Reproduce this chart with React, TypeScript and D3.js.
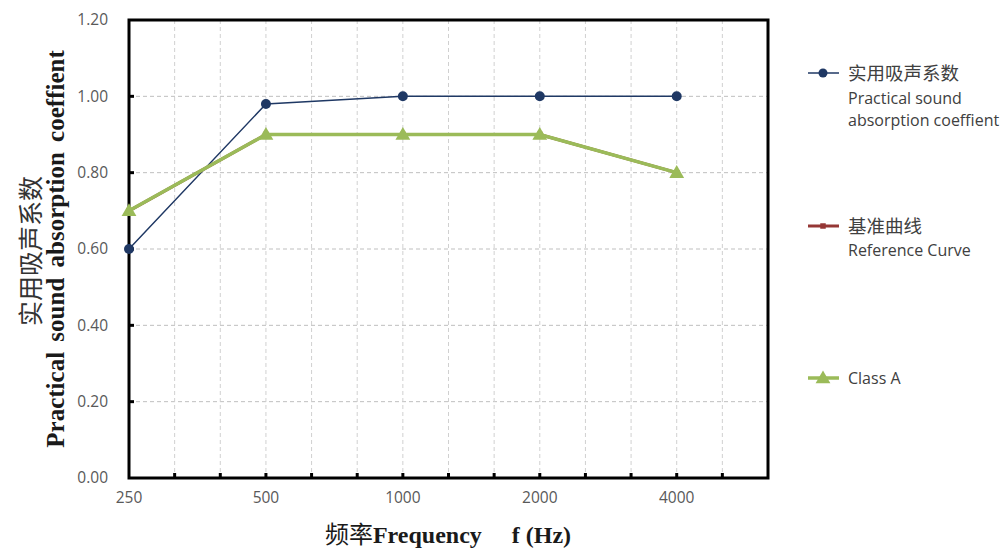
import React from "react";
import * as d3 from "d3";

const categories = ["250", "500", "1000", "2000", "4000"];
const categoryPos = [0, 3, 6, 9, 12];
const practical = [0.6, 0.98, 1.0, 1.0, 1.0];
const reference = [0.7, 0.9, 0.9, 0.9, 0.8];
const classA = [0.7, 0.9, 0.9, 0.9, 0.8];
const yTicks = [0, 0.2, 0.4, 0.6, 0.8, 1.0, 1.2];
const xMinorTicks = d3.range(0, 15);

const W = 1003;
const H = 549;
const L = 129, R = 768, T = 20, B = 478;

export default function App() {
  const x = d3.scaleLinear().domain([0, 14]).range([L, R]);
  const y = d3.scaleLinear().domain([0, 1.2]).range([B, T]);
  const line = d3
    .line<number>()
    .x((_, i) => x(categoryPos[i]))
    .y((d) => y(d));
  const tri = d3.symbol().type(d3.symbolTriangle).size(95)();
  const sq = d3.symbol().type(d3.symbolSquare).size(30)();
  const tickFont = "'Open Sans', 'Liberation Sans', sans-serif";

  return (
    <svg
      width={W}
      height={H}
      style={{ position: "absolute", left: 0, top: 0, background: "#fff" }}
    >
      {/* grid */}
      {yTicks.slice(1, -1).map((t) => (
        <line key={"gy" + t} x1={L} x2={R} y1={y(t)} y2={y(t)} stroke="#BFBFBF" strokeWidth={1} strokeDasharray="4,3" />
      ))}
      {xMinorTicks.slice(1, -1).map((t) => (
        <line key={"gx" + t} x1={x(t)} x2={x(t)} y1={T} y2={B} stroke="#D0D0D0" strokeWidth={1} strokeDasharray="4,3" />
      ))}
      {/* frame */}
      <rect x={L} y={T} width={R - L} height={B - T} fill="none" stroke="#000" strokeWidth={3} />
      {/* ticks */}
      {xMinorTicks.slice(1, -1).map((t) => (
        <line key={"tx" + t} x1={x(t)} x2={x(t)} y1={B} y2={B - 5} stroke="#000" strokeWidth={3} />
      ))}
      {yTicks.slice(1, -1).map((t) => (
        <line key={"ty" + t} x1={L} x2={L + 5} y1={y(t)} y2={y(t)} stroke="#000" strokeWidth={3} />
      ))}
      {/* tick labels */}
      {yTicks.map((t) => (
        <text key={"ly" + t} x={108} y={y(t)} dy="0.35em" textAnchor="end" fontFamily={tickFont} fontSize={15.5} fill="#595959">
          {t.toFixed(2)}
        </text>
      ))}
      {categories.map((c, i) => (
        <text key={"lx" + c} x={x(categoryPos[i])} y={503} textAnchor="middle" fontFamily={tickFont} fontSize={15.5} fill="#595959">
          {c}
        </text>
      ))}
      {/* axis titles */}
      <text x={448} y={543} textAnchor="middle" fontFamily="'Liberation Serif', 'Times New Roman', serif" fontWeight="bold" fontSize={24} fill="#1a1a1a">
        <tspan fontFamily="'Noto Sans CJK SC', sans-serif" fontWeight="normal">频率</tspan>
        <tspan>Frequency</tspan>
        <tspan dx={30}>f (Hz)</tspan>
      </text>
      <text transform="translate(40,251) rotate(-90)" textAnchor="middle" fontFamily="'Noto Sans CJK SC', sans-serif" fontSize={25} fill="#333">
        实用吸声系数
      </text>
      <text transform="translate(64,249) rotate(-90)" textAnchor="middle" fontFamily="'Liberation Serif', 'Times New Roman', serif" fontWeight="bold" fontSize={25} fill="#1a1a1a" style={{ wordSpacing: "4px" }}>
        Practical sound absorption coeffient
      </text>

      {/* series */}
      <path d={line(practical) || ""} fill="none" stroke="#1F3864" strokeWidth={1.5} />
      {practical.map((v, i) => (
        <circle key={"p" + i} cx={x(categoryPos[i])} cy={y(v)} r={5} fill="#1F3864" />
      ))}
      <path d={line(reference) || ""} fill="none" stroke="#953735" strokeWidth={3} />
      {reference.map((v, i) => (
        <path key={"r" + i} d={sq || ""} transform={`translate(${x(categoryPos[i])},${y(v)})`} fill="#953735" />
      ))}
      <path d={line(classA) || ""} fill="none" stroke="#9BBB59" strokeWidth={3.5} />
      {classA.map((v, i) => (
        <path key={"a" + i} d={tri || ""} transform={`translate(${x(categoryPos[i])},${y(v) + 1})`} fill="#9BBB59" />
      ))}

      {/* legend */}
      <g fontFamily={tickFont} fontSize={16} fill="#404040">
        <line x1={808} x2={839} y1={73} y2={73} stroke="#1F3864" strokeWidth={1.5} />
        <circle cx={823} cy={73} r={4.5} fill="#1F3864" />
        <text x={848} y={80} fontFamily="'Noto Sans CJK SC', sans-serif" fontSize={18.5}>实用吸声系数</text>
        <text x={848} y={104}>Practical sound</text>
        <text x={848} y={126}>absorption coeffient</text>

        <line x1={808} x2={839} y1={226} y2={226} stroke="#953735" strokeWidth={3} />
        <path d={sq || ""} transform="translate(823,226)" fill="#953735" />
        <text x={848} y={233} fontFamily="'Noto Sans CJK SC', sans-serif" fontSize={18.5}>基准曲线</text>
        <text x={848} y={256}>Reference Curve</text>

        <line x1={808} x2={839} y1={378} y2={378} stroke="#9BBB59" strokeWidth={3.5} />
        <path d={tri || ""} transform="translate(823,379)" fill="#9BBB59" />
        <text x={848} y={384}>Class A</text>
      </g>
    </svg>
  );
}
